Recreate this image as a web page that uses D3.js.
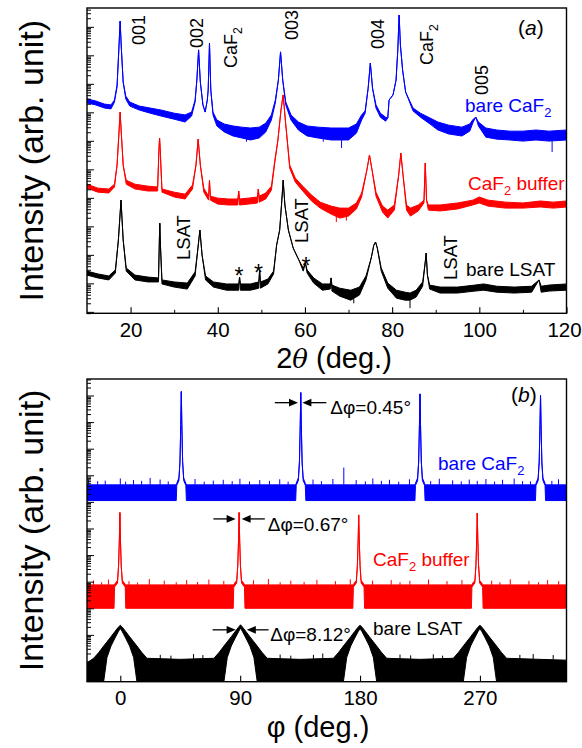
<!DOCTYPE html>
<html><head><meta charset="utf-8">
<script src="https://cdn.jsdelivr.net/npm/d3@7"></script>
<style>body{margin:0;background:#fff}svg{display:block}text{font-family:"Liberation Sans",Arial,Helvetica,sans-serif}</style>
</head><body><svg id="c" width="582" height="748"></svg>
<script>
// ===== DATA (values are log10 of intensity, arb. unit) =====
// panel (a): [2theta, upper edge, lower edge]
const xrdBareCaF2 = [[10,7.47,7.33],[12,7.40,7.26],[14,7.29,7.15],[15.5,7.26,7.12],[16.3,7.43,7.36],[16.9,7.96,7.89],[17.3,9.19],[17.6,10.20],[17.9,9.19],[18.3,8.06],[18.9,7.57,7.47],[19.8,7.36,7.22],[22,7.22,7.08],[24.5,7.15,6.97],[27,7.08,6.87],[30,6.97,6.76],[32.5,6.91,6.66],[34,7.01,6.87],[34.8,7.43,7.36],[35.2,8.13],[35.6,9.19],[36.0,8.06],[36.6,7.26],[37.1,7.01],[37.6,7.43],[37.8,7.78],[38.1,9.43],[38.4,7.78],[38.9,7.01,6.91],[39.8,6.73,6.52],[41.5,6.59,6.31],[43.5,6.52,6.17],[45.5,6.48,6.10],[47.5,6.45,6.03],[49.5,6.48,6.10],[51,6.62,6.31],[52.3,6.91,6.73],[53.2,7.43,7.33],[53.9,8.13],[54.4,9.12],[54.9,8.13],[55.6,7.36,7.26],[56.8,6.91,6.73],[58.5,6.66,6.38],[60.5,6.52,6.17],[63,6.48,6.10],[66,6.45,6.03],[70,6.45,6.03],[71.8,6.59,6.27],[73,6.91,6.73],[73.8,7.05,6.97],[74.5,7.85],[75.0,8.73],[75.5,7.85],[76.3,7.26,7.15],[77.3,6.97,6.83],[78.5,6.83,6.69],[79.0,6.80],[79.3,7.43],[80.2,7.61],[80.9,8.13],[81.3,9.19],[81.6,10.41],[81.9,9.36],[82.4,8.48],[83.1,7.71],[84.8,7.15,7.05],[86.5,6.97,6.83],[88.7,6.80,6.59],[90.5,6.66,6.38],[93,6.55,6.24],[96,6.48,6.17],[97.8,6.59,6.34],[98.6,6.76,6.66],[99.2,6.83],[99.8,6.66,6.52],[101.5,6.45,6.13],[104,6.38,6.06],[107,6.34,6.03],[110,6.34,5.99],[113,6.38,6.03],[116,6.34,5.99],[120,6.38,6.03]];
const xrdCaF2Buffer = [[10,4.48,4.34],[12.5,4.34,4.20],[15,4.31,4.17],[16.3,4.48,4.38],[16.9,5.15],[17.3,6.20],[17.6,7.01],[17.9,6.20],[18.3,5.15],[19,4.62,4.48],[21,4.48,4.31],[24,4.41,4.24],[26.2,4.38,4.24],[26.5,5.68],[26.65,6.10],[26.8,5.68],[27.2,4.31,4.20],[30,4.20,4.03],[32.5,4.13,3.96],[34.2,4.45,4.31],[35.0,5.15],[35.5,6.06],[36.0,5.15],[36.8,4.34,4.20],[37.9,4.06,3.92],[38.1,4.62],[38.3,4.06,3.92],[40,3.99,3.78],[42.5,3.96,3.75],[44.6,3.96,3.75],[44.8,4.24],[45.0,3.96,3.75],[47,3.99,3.78],[49.1,4.03,3.82],[49.3,4.31],[49.5,4.06,3.85],[51,4.17,3.96],[52.3,4.41,4.27],[53.1,5.33,5.26],[53.8,6.03],[54.5,7.08],[55.0,7.61],[55.5,6.73],[56.5,5.15,5.04],[57.8,4.69,4.55],[59.5,4.41,4.24],[61.5,4.10,3.89],[63.5,3.85,3.64],[66,3.71,3.43],[68,3.64,3.29],[70,3.64,3.36],[71.8,3.82,3.61],[73,4.17,4.03],[74.2,4.97],[74.8,5.50],[75.4,4.97],[76.3,4.20,4.06],[77.8,3.71,3.50],[79.0,3.57,3.29],[80.5,3.75,3.57],[81.5,4.80],[82.0,5.57],[82.5,4.80],[83.3,3.75,3.57],[84.2,3.64,3.36],[86,3.75,3.54],[87.3,3.92,3.82],[87.6,5.22],[87.9,3.92],[88.3,3.75,3.57],[91,3.75,3.54],[95,3.82,3.61],[98.5,3.92,3.75],[100,4.03,3.82],[102,3.92,3.71],[106,3.85,3.64],[110,3.82,3.64],[114,3.89,3.68],[117,3.85,3.64],[120,3.89,3.68]];
const xrdBareLSAT = [[10,1.43,1.29],[12.5,1.33,1.19],[15,1.26,1.12],[16.5,1.47,1.36],[17.2,2.52],[17.8,3.92],[18.3,2.52],[19,1.54,1.43],[21,1.29,1.12],[24,1.22,1.05],[26.4,1.19,1.05],[26.6,2.52],[26.7,3.11],[26.85,2.34],[27.2,1.12,0.98],[30,1.05,0.87],[33,1.01,0.80],[34.8,1.40,1.26],[35.4,2.17],[35.9,2.87],[36.4,1.99],[37.2,1.26,1.12],[39,1.05,0.87],[42,0.98,0.76],[44.8,0.98,0.76],[45.0,1.22],[45.2,0.98,0.76],[47.5,0.98,0.76],[49.4,1.05,0.83],[49.6,1.47],[49.8,1.05,0.83],[51.5,1.15,0.98],[52.8,1.43,1.33],[53.5,2.34],[54.2,2.87],[54.7,3.92],[55.0,4.62],[55.4,3.75],[56.2,2.87],[57.3,2.24],[58.6,1.82],[59.6,1.54,1.43],[60.1,1.71],[60.5,1.47,1.36],[62,1.19,1.01],[64,0.98,0.76],[65.8,0.98,0.80],[66.0,1.19],[66.2,0.94,0.73],[68,0.83,0.55],[70.5,0.76,0.41],[72.5,0.87,0.59],[74,1.26,1.12],[75.2,1.89],[75.8,2.34],[76.2,2.45],[76.6,2.24],[77.5,1.54,1.43],[79,1.01,0.83],[81,0.76,0.48],[83,0.69,0.41],[84.1,0.66,0.41],[85.5,0.76,0.52],[87.0,1.05,0.90],[87.6,1.75],[87.8,2.06],[88.1,1.29],[88.6,0.94,0.80],[91,0.87,0.66],[95,0.87,0.66],[99,0.94,0.73],[101,0.98,0.76],[104,0.90,0.69],[108,0.87,0.66],[112,0.90,0.69],[113.7,1.12],[114.2,0.90,0.69],[116,0.94,0.73],[120,0.98,0.76]];
// noise spikes in (a): [2theta, from, to]
const xrdSpikes = [
  {s:0,d:[[46.6,6.10,5.97],[64.2,6.10,5.97],[68.4,6.03,5.75],[116.7,5.99,5.61]]},
  {s:1,d:[[67.2,3.36,3.15],[69.5,3.36,3.20]]},
  {s:2,d:[[84.1,0.41,0.13],[71.2,0.45,0.30]]}
];
// panel (b): [phi, upper edge, lower edge]
const phiBareCaF2 = [[-25,6.64,6.05],[42.0,6.64,6.05],[42.4,6.70,6.62],[44.0,6.90,6.80],[44.8,7.5],[45.4,8.9],[45.8,10.15],[46.2,8.9],[46.8,7.5],[47.6,6.90,6.80],[49.2,6.70,6.62],[49.6,6.64,6.05],[131.7,6.64,6.05],[132.1,6.70,6.62],[133.7,6.90,6.80],[134.5,7.5],[135.1,8.9],[135.5,10.11],[135.9,8.9],[136.5,7.5],[137.3,6.90,6.80],[138.9,6.70,6.62],[139.3,6.64,6.05],[221.2,6.64,6.05],[221.6,6.70,6.62],[223.2,6.90,6.80],[224.0,7.5],[224.6,8.9],[225.0,10.06],[225.4,8.9],[226.0,7.5],[226.8,6.90,6.80],[228.4,6.70,6.62],[228.8,6.64,6.05],[311.7,6.64,6.05],[312.1,6.70,6.62],[313.7,6.90,6.80],[314.5,7.5],[315.1,8.9],[315.5,10.00],[315.9,8.9],[316.5,7.5],[317.3,6.90,6.80],[318.9,6.70,6.62],[319.3,6.64,6.05],[335,6.64,6.05]];
const phiCaF2Buffer = [[-25,2.88,2.00],[-4.7,2.88,2.00],[-4.3,2.90,2.80],[-2.1,3.05,2.95],[-1.3,3.6],[-0.7,4.6],[-0.3,5.60],[0.1,4.6],[0.7,3.6],[1.5,3.05,2.95],[3.7,2.90,2.80],[4.1,2.88,2.00],[84.8,2.88,2.00],[85.2,2.90,2.80],[87.4,3.05,2.95],[88.2,3.6],[88.8,4.6],[89.2,5.60],[89.6,4.6],[90.2,3.6],[91.0,3.05,2.95],[93.2,2.90,2.80],[93.6,2.88,2.00],[174.6,2.88,2.00],[175.0,2.90,2.80],[177.2,3.05,2.95],[178.0,3.6],[178.6,4.6],[179.0,5.51],[179.4,4.6],[180.0,3.6],[180.8,3.05,2.95],[183.0,2.90,2.80],[183.4,2.88,2.00],[263.6,2.88,2.00],[264.0,2.90,2.80],[266.2,3.05,2.95],[267.0,3.6],[267.6,4.6],[268.0,5.58],[268.4,4.6],[269.0,3.6],[269.8,3.05,2.95],[272.0,2.90,2.80],[272.4,2.88,2.00],[335,2.88,2.00]];
const phiBareLSAT = [[-25,-0.05,-0.76],[-20,0.12,-0.76],[-16,0.35,-0.76],[-12.5,0.58,-0.76],[-10,0.74,0.15],[-7,0.93,0.58],[-4,1.13,0.88],[-1.5,1.29,1.12],[0,1.36,1.24],[1.5,1.29,1.12],[4,1.13,0.88],[7,0.93,0.58],[10,0.74,0.15],[12.5,0.58,-0.76],[16,0.35,-0.76],[20,0.12,-0.76],[45,0.08,-0.76],[70.3,0.12,-0.76],[74.3,0.35,-0.76],[77.8,0.58,-0.76],[80.3,0.74,0.15],[83.3,0.93,0.58],[86.3,1.13,0.88],[88.8,1.29,1.12],[90.3,1.38,1.26],[91.8,1.29,1.12],[94.3,1.13,0.88],[97.3,0.93,0.58],[100.3,0.74,0.15],[102.8,0.58,-0.76],[106.3,0.35,-0.76],[110.3,0.12,-0.76],[135,0.08,-0.76],[160,0.12,-0.76],[164,0.35,-0.76],[167.5,0.58,-0.76],[170,0.74,0.15],[173,0.93,0.58],[176,1.13,0.88],[178.5,1.29,1.12],[180,1.36,1.24],[181.5,1.29,1.12],[184,1.13,0.88],[187,0.93,0.58],[190,0.74,0.15],[192.5,0.58,-0.76],[196,0.35,-0.76],[200,0.12,-0.76],[225,0.08,-0.76],[250,0.12,-0.76],[254,0.35,-0.76],[257.5,0.58,-0.76],[260,0.74,0.15],[263,0.93,0.58],[266,1.13,0.88],[268.5,1.29,1.12],[270,1.36,1.24],[271.5,1.29,1.12],[274,1.13,0.88],[277,0.93,0.58],[280,0.74,0.15],[282.5,0.58,-0.76],[286,0.35,-0.76],[290,0.12,-0.76],[315,0.08,-0.76],[335,0.05,-0.76]];
// noise spikes in (b): [phi, top]
const phiSpikesCaF2 = [[-23.8,6.85],[-17,6.78],[-11.3,6.80],[0,6.88],[4,6.76],[9.9,6.82],[16,6.79],[22.4,6.90],[29.9,6.84],[36,6.77],[56.1,6.86],[63,6.76],[69.8,6.80],[77.3,6.83],[84,6.78],[89.8,6.87],[97,6.77],[104.7,6.82],[112,6.79],[119.7,6.85],[126,6.76],[144.7,6.84],[151,6.78],[159.6,6.86],[167.8,7.29],[177.1,6.82],[184,6.77],[189.6,6.88],[196,6.79],[202.1,6.83],[209,6.76],[217.1,6.85],[233,6.78],[239.5,6.87],[249.5,6.81],[256,6.77],[262,6.84],[268,6.79],[274.5,6.86],[281,6.76],[287,6.83],[295.7,6.88],[302,6.78],[308,6.77],[324,6.79],[329,6.85]];
const phiSpikesBuffer = [[-20.1,3.05],[-14,2.98],[-8.9,3.08],[6.5,3.02],[13,2.97],[21.8,3.10],[33.0,3.04],[42,2.98],[49.8,3.06],[58,2.99],[66.5,3.08],[77.7,3.03],[100.0,3.05],[111.2,3.10],[120,2.98],[128.0,3.04],[138,2.99],[147.6,3.07],[161.5,3.02],[172.7,3.09],[189.4,3.04],[203.4,3.06],[210,2.98],[217.4,3.03],[231.4,3.08],[245.3,3.02],[256.5,3.06],[278.8,3.04],[285,2.98],[292.8,3.09],[306.8,3.03],[314,2.98],[320.8,3.06],[329.1,3.02]];
const phiSpikesLSAT = [[30,0.25],[38,0.22],[55,0.28],[62,0.24],[120,0.26],[128,0.22],[145,0.25],[152,0.30],[210,0.26],[218,0.23],[235,0.27],[242,0.22],[300,0.25],[310,0.28],[325,0.24]];
const spikeBase = [6.64, 2.88, 0.08];
const seriesNames = ["bare CaF2", "CaF2 buffer", "bare LSAT"];
const colors = ["#0000ff", "#ff0000", "#000000"];
const xTicksA = [20,40,60,80,100,120], xMinorA = [30,50,70,90,110];
const xTicksB = [0,90,180,270], xMinorB = [45,135,225,315];
const peakLabelsA = ["001","002","CaF2","003","004","CaF2","005"];
const fwhm = [{t:"Δφ=0.45°",c:135.5,v:9.73},{t:"Δφ=0.67°",c:89.2,v:5.36},{t:"Δφ=8.12°",c:90.3,v:1.19}];

// ===== CHART =====
const svg = d3.select('#c');
const L = 87, R = 566.5;
const pA = {T:8, B:313.3}, pB = {T:379, B:681.7};
const xA = d3.scaleLinear().domain([10,120]).range([L,R]);
const xB = d3.scaleLinear().domain([-25,335]).range([L,R]);
const yA = d3.scaleLog().domain([10**-0.05, 10**10.66]).range([pA.B, pA.T]);
const yB = d3.scaleLog().domain([10**-0.76, 10**10.62]).range([pB.B, pB.T]);
const FF = '"Liberation Sans",Arial,sans-serif';

const defs = svg.append('defs');
[['ca',pA],['cb',pB]].forEach(([id,p])=>{
  defs.append('clipPath').attr('id',id).append('rect').attr('x',L).attr('y',p.T).attr('width',R-L).attr('height',p.B-p.T);
});

function band(g, x, y, data, color){
  const rows = data.map(d=>({x:d[0], hi:d[1], lo:d.length>2?d[2]:d[1]}));
  const a = d3.area().x(d=>x(d.x)).y0(d=>y(10**d.lo)).y1(d=>y(10**d.hi));
  g.append('path').attr('d',a(rows)).attr('fill',color).attr('stroke',color)
   .attr('stroke-width',1).attr('stroke-linejoin','round');
}

const gA = svg.append('g').attr('clip-path','url(#ca)');
[xrdBareCaF2, xrdCaF2Buffer, xrdBareLSAT].forEach((d,i)=>band(gA,xA,yA,d,colors[i]));
xrdSpikes.forEach(s=>{
  gA.selectAll(null).data(s.d).enter().append('line')
    .attr('x1',d=>xA(d[0])).attr('x2',d=>xA(d[0]))
    .attr('y1',d=>yA(10**d[1])).attr('y2',d=>yA(10**d[2]))
    .attr('stroke',colors[s.s]).attr('stroke-width',1);
});

const gB = svg.append('g').attr('clip-path','url(#cb)');
[phiBareCaF2, phiCaF2Buffer, phiBareLSAT].forEach((d,i)=>band(gB,xB,yB,d,colors[i]));
[phiSpikesCaF2, phiSpikesBuffer, phiSpikesLSAT].forEach((sp,i)=>{
  gB.selectAll(null).data(sp).enter().append('line')
    .attr('x1',d=>xB(d[0])).attr('x2',d=>xB(d[0]))
    .attr('y1',yB(10**spikeBase[i])).attr('y2',d=>yB(10**d[1]))
    .attr('stroke',colors[i]).attr('stroke-width',1);
});

// log ticks
function logTicks(y){
  const [a,b] = y.domain(); const maj=[], min=[];
  for(let n=Math.floor(Math.log10(a))-1; n<=Math.ceil(Math.log10(b)); n++){
    for(let k=1;k<=9;k++){ const v=k*10**n; if(v>=a && v<=b){ (k===1?maj:min).push(v);} }
  }
  return {maj, min};
}
function yAxis(y){
  const t = logTicks(y);
  const g1 = svg.append('g').attr('transform',`translate(${L},0)`)
    .call(d3.axisLeft(y).tickValues(t.maj).tickSize(-7).tickFormat(''));
  const g2 = svg.append('g').attr('transform',`translate(${L},0)`)
    .call(d3.axisLeft(y).tickValues(t.min).tickSize(-4).tickFormat(''));
  [g1,g2].forEach(g=>{g.select('.domain').remove(); g.selectAll('line').attr('stroke-width',1);});
}
yAxis(yA); yAxis(yB);

function xAxis(x, p, maj, mn){
  const g = svg.append('g').attr('transform',`translate(0,${p.B})`)
    .call(d3.axisBottom(x).tickValues(maj).tickSizeInner(-6).tickSizeOuter(0).tickPadding(9));
  g.select('.domain').remove();
  g.selectAll('text').attr('font-size',20.5).attr('font-family',FF).attr('fill','#000')
    .attr('dx', d => x(d) > R - 5 ? -2.5 : 0);
  g.selectAll('line').attr('stroke-width',1.1);
  const g2 = svg.append('g').attr('transform',`translate(0,${p.B})`)
    .call(d3.axisBottom(x).tickValues(mn).tickSize(-3.5).tickFormat(''));
  g2.select('.domain').remove();
}
xAxis(xA,pA,xTicksA,xMinorA);
xAxis(xB,pB,xTicksB,xMinorB);

// frames
[pA,pB].forEach(p=>svg.append('rect').attr('x',L).attr('y',p.T).attr('width',R-L).attr('height',p.B-p.T)
  .attr('fill','none').attr('stroke','#000').attr('stroke-width',1.4));

// axis titles
[pA,pB].forEach(p=>svg.append('text').attr('transform',`translate(31,${(p.T+p.B)/2}) rotate(-90)`)
  .attr('text-anchor','middle').attr('dominant-baseline','central').attr('font-size',34).text('Intensity (arb. unit)'));
const tA = svg.append('text').attr('x',334).attr('y',368).attr('text-anchor','middle').attr('font-size',29);
tA.append('tspan').text('2');
tA.append('tspan').attr('font-style','italic').attr('font-family','"DejaVu Serif",serif').attr('font-size',26).text('θ');
tA.append('tspan').text(' (deg.)');
svg.append('text').attr('x',318).attr('y',737).attr('text-anchor','middle').attr('font-size',29).text('φ (deg.)');

// panel letters
function letter(x,y,ch){
  const t = svg.append('text').attr('x',x).attr('y',y).attr('font-size',21);
  t.append('tspan').text('('); t.append('tspan').attr('font-style','italic').text(ch); t.append('tspan').text(')');
}
letter(518,35,'a'); letter(511,402,'b');

// rotated peak labels (a)
const rotPos = [[145,45],[203,48],[237,68],[298,40],[384,49],[433,65],[488,95]];
function rotLabel(x,y,str,size){
  const t = svg.append('text').attr('transform',`translate(${x},${y}) rotate(-90)`).attr('font-size',size);
  if(str==='CaF2'){ t.append('tspan').text('CaF'); t.append('tspan').attr('font-size',size*0.68).attr('dy',5).text('2'); }
  else t.text(str);
}
peakLabelsA.forEach((s,i)=>rotLabel(rotPos[i][0],rotPos[i][1],s,18));
[[190,260],[308,243],[457,280]].forEach(p=>rotLabel(p[0],p[1],'LSAT',18.5));
[[239,284],[258.6,281],[306,274]].forEach(p=>svg.append('text').attr('x',p[0]).attr('y',p[1]).attr('text-anchor','middle').attr('font-size',23).text('*'));

// series labels
function seriesLabel(x,y,i){
  const t = svg.append('text').attr('x',x).attr('y',y).attr('font-size',19).attr('fill',colors[i]);
  if(i===0){ t.append('tspan').text('bare CaF'); t.append('tspan').attr('font-size',13).attr('dy',5).text('2'); }
  else if(i===1){ t.append('tspan').text('CaF'); t.append('tspan').attr('font-size',13).attr('dy',5).text('2'); t.append('tspan').attr('dy',-5).text(' buffer'); }
  else t.text('bare LSAT');
}
seriesLabel(465,111.7,0); seriesLabel(468,190,1); seriesLabel(466,276,2);
seriesLabel(438,470,0); seriesLabel(373,566,1); seriesLabel(373,635,2);

// FWHM arrows (b)
const arrowOff = [[-19.5,-2.1,1.2,19.2],[-19.3,-2.6,1.9,19.3],[-21,-3.7,4.7,21]];
const textAt = [[157.7,9.31],[110.7,4.91],[112.6,0.77]];
fwhm.forEach((f,i)=>{
  const yy = yB(10**f.v), o = arrowOff[i];
  const seg = [[xB(f.c+o[0]), xB(f.c+o[1]), 1],[xB(f.c+o[3]), xB(f.c+o[2]), -1]];
  seg.forEach(([tail,tip,dir])=>{
    svg.append('line').attr('x1',tail).attr('x2',tip-dir*6).attr('y1',yy).attr('y2',yy).attr('stroke','#000').attr('stroke-width',1.3);
    svg.append('path').attr('d',`M${tip},${yy}L${tip-dir*9},${yy-3.8}L${tip-dir*9},${yy+3.8}Z`).attr('fill','#000');
  });
  svg.append('text').attr('x',xB(textAt[i][0])).attr('y',yB(10**textAt[i][1])).attr('font-size',19).text(f.t);
});
</script></body></html>
